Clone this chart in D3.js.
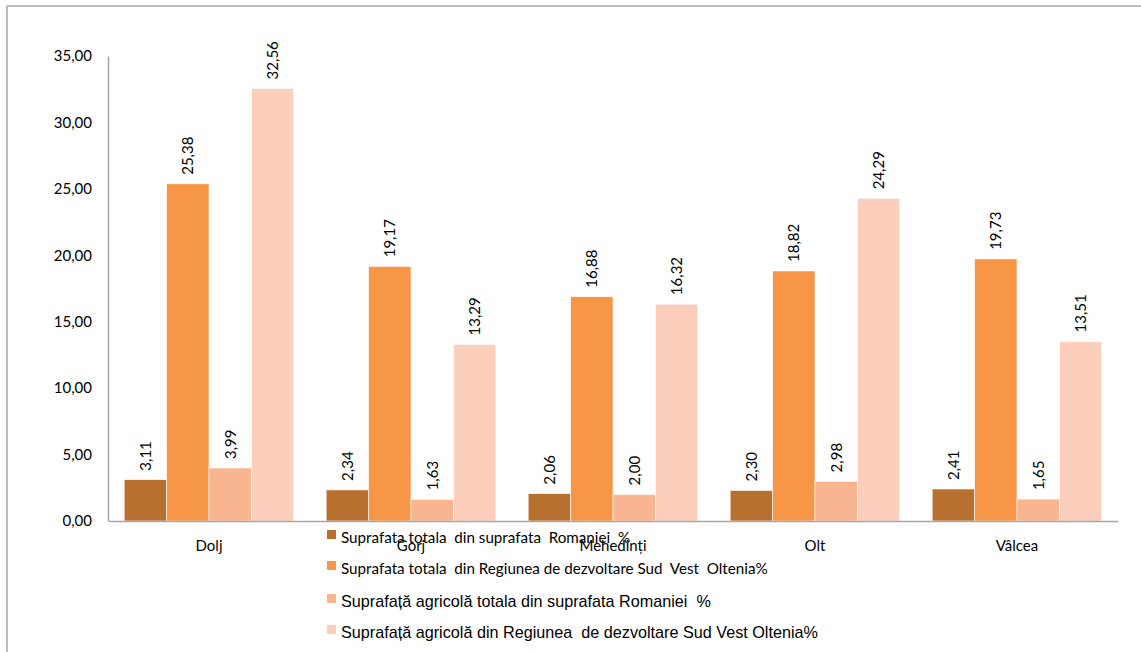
<!DOCTYPE html>
<html><head><meta charset="utf-8">
<script src="https://cdn.jsdelivr.net/npm/d3@7"></script>
<style>body{margin:0;background:#fff}svg{display:block}</style>
</head><body>
<svg id="c" width="1141" height="652"></svg>
<script>
const categories = ["Dolj","Gorj","Mehedinți","Olt","Vâlcea"];
const seriesNames = [
  "Suprafata totala  din suprafata  Romaniei  %",
  "Suprafata totala  din Regiunea de dezvoltare Sud  Vest  Oltenia%",
  "Suprafață agricolă totala din suprafata Romaniei  %",
  "Suprafață agricolă din Regiunea  de dezvoltare Sud Vest Oltenia%"
];
const s1 = [3.11, 2.34, 2.06, 2.30, 2.41];
const s2 = [25.38, 19.17, 16.88, 18.82, 19.73];
const s3 = [3.99, 1.63, 2.00, 2.98, 1.65];
const s4 = [32.56, 13.29, 16.32, 24.29, 13.51];
const yTicks = [0,5,10,15,20,25,30,35];
const colors = ["#B8702F","#F79646","#F9B490","#FBCFBB"];

(function(){
const series = [s1,s2,s3,s4];
const svg = d3.select("#c");
const fmt = v => d3.format(".2f")(v).replace(".", ",");
const F = "Lato, 'Open Sans', sans-serif";

svg.append("line").attr("x1",7).attr("x2",1141).attr("y1",6).attr("y2",6).attr("stroke","#a6a6a6").attr("stroke-width",1.5);
svg.append("line").attr("x1",7).attr("x2",7).attr("y1",6).attr("y2",652).attr("stroke","#a6a6a6").attr("stroke-width",1.5);

const pL = 108, pR = 1118, pT = 56, pB = 521;
const x = d3.scaleBand().domain(categories).range([pL,pR]).paddingInner(0.16).paddingOuter(0.08);
const x1 = d3.scaleBand().domain(d3.range(4)).range([0,x.bandwidth()]);
const y = d3.scaleLinear().domain([0,35]).range([pB,pT]);

const ya = svg.append("g").attr("transform",`translate(${pL},0)`)
  .call(d3.axisLeft(y).tickValues(yTicks).tickSize(0).tickPadding(16).tickFormat(fmt));
ya.select(".domain").attr("stroke","#a6a6a6").attr("stroke-width",1.5);
ya.selectAll("text").attr("font-family",F).attr("font-size",15).attr("fill","#000");

categories.forEach((c,i)=>{
  series.forEach((s,j)=>{
    const v = s[i];
    const bx = x(c)+x1(j);
    svg.append("rect").attr("x",bx).attr("y",y(v)).attr("width",x1.bandwidth()).attr("height",pB-y(v))
      .attr("fill",colors[j]).attr("stroke","#fff").attr("stroke-width",0.6);
    const cx = bx + x1.bandwidth()/2;
    svg.append("text").attr("transform",`translate(${cx+5.5},${y(v)-9}) rotate(-90)`)
      .attr("font-family",F).attr("font-size",15).attr("fill","#000")
      .text(fmt(v));
  });
});

const xa = svg.append("g").attr("transform",`translate(0,${pB})`)
  .call(d3.axisBottom(x).tickSize(0).tickPadding(19));
xa.select(".domain").attr("stroke","#a6a6a6").attr("stroke-width",1.5);
xa.selectAll("text").attr("font-family",F).attr("font-size",15).attr("fill","#000");

const legY = [537, 568, 601, 632];
const legFonts = [F, F,"'Liberation Sans', Arial, sans-serif","'Liberation Sans', Arial, sans-serif"];
const legSize = [15.2,15.2,16.2,16.2];
seriesNames.forEach((n,j)=>{
  svg.append("rect").attr("x",327).attr("y",legY[j]-7).attr("width",9).attr("height",9).attr("fill",colors[j]);
  svg.append("text").attr("x",341).attr("y",legY[j]+5.5).attr("font-family",legFonts[j]).attr("font-size",legSize[j])
    .attr("fill","#000").style("white-space","pre").text(n);
});
})();
</script>
</body></html>
